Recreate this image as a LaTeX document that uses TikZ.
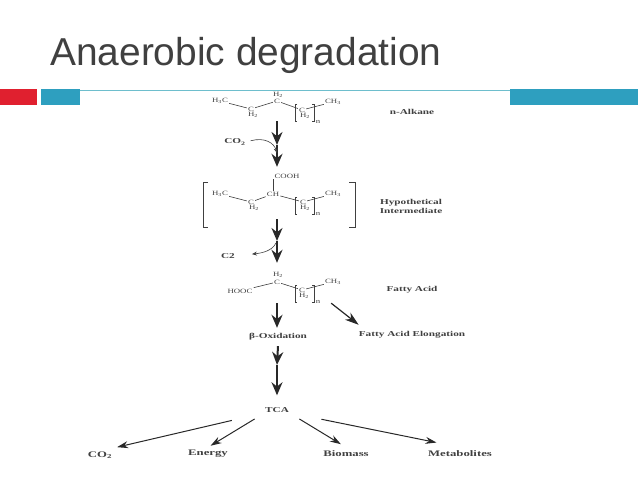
\documentclass[tikz,border=0pt]{standalone}
\usepackage{fontspec}
\setmainfont{Liberation Sans}
\newfontfamily\chemfont[FakeStretch=1.35]{Liberation Serif}
\newfontfamily\lblfont[FakeStretch=1.5]{Liberation Serif}
\usetikzlibrary{arrows.meta,fit}
\definecolor{inkt}{RGB}{64,64,64}
\definecolor{inkc}{RGB}{40,40,40}
\definecolor{redbar}{RGB}{224,32,47}
\definecolor{bluebar}{RGB}{46,159,191}
\definecolor{blueline}{RGB}{110,190,205}

\begin{document}
\begin{tikzpicture}[
  x=1pt, y=-1pt,
  atom/.style={font=\chemfont\fontsize{6.5}{7}\selectfont, text=inkt, inner sep=1pt},
  lbl/.style={font=\lblfont\bfseries\fontsize{7.5}{9}\selectfont, text=inkt, align=center, inner sep=0pt},
  prod/.style={font=\lblfont\bfseries\fontsize{8.5}{9}\selectfont, text=inkt, inner sep=0pt, minimum height=13pt},
  bond/.style={line width=0.6pt, inkt},
  brk/.style={line width=0.6pt, inkt},
  arr/.style={-{Stealth[length=13pt, width=11pt]}, line width=2pt, inkc},
  tarr/.style={-{Stealth[length=11pt, width=7pt]}, line width=1pt, inkc},
  earr/.style={-{Stealth[length=14pt, width=9pt]}, line width=1.2pt, inkc},
  carr/.style={-{Stealth[length=5pt, width=4pt]}, line width=0.6pt, inkt},
  span/.style={inner sep=0pt},
]
\useasboundingbox (0,0) rectangle (638,479);

% ============ title and header bars ============
\node[anchor=base west, inner sep=0pt, text=inkt, font=\fontsize{38.9}{40}\selectfont] (title) at (50,65) {Anaerobic degradation};
\fill[redbar] (0,89) rectangle (37,105);
\fill[bluebar] (41,89) rectangle (80,105);
\fill[bluebar] (510,89) rectangle (638,105);
\draw[blueline, line width=1pt] (80,90) -- (510,90);

% ============ n-alkane ============
\node[atom] (aleft) at (220,101) {H\textsubscript{3}C};
\node[atom] (ac1) at (251,109) {C};
\node[atom] (ah1) at (253,115) {H\textsubscript{2}};
\node[atom] (ac2) at (277,101) {C};
\node[atom] (ah2) at (278,95) {H\textsubscript{2}};
\node[atom] (ac3) at (302,110) {C};
\node[atom] (ah3) at (305,116) {H\textsubscript{2}};
\node[atom] (an) at (318,122) {n};
\node[atom] (aright) at (333,102) {CH\textsubscript{3}};
\draw[bond] (aleft)--(ac1); \draw[bond] (ac1)--(ac2); \draw[bond] (ac2)--(ac3); \draw[bond] (ac3)--(aright);
\node[lbl] (alkane) at (412,112) {n-Alkane};
\node[span, fit={(209,91)(345,121)}] (alkbox) {};

% ============ intermediate ============
\node[atom] (icooh) at (287,176) {COOH};
\node[atom] (ileft) at (220,194) {H\textsubscript{3}C};
\node[atom] (ic1) at (251,202) {C};
\node[atom] (ih1) at (254,208) {H\textsubscript{2}};
\node[atom] (ich) at (273,194) {CH};
\node[atom] (ic3) at (303,202) {C};
\node[atom] (ih3) at (305,208) {H\textsubscript{2}};
\node[atom] (in) at (318,214) {n};
\node[atom] (iright) at (333,194) {CH\textsubscript{3}};
\draw[bond] (ileft)--(ic1); \draw[bond] (ic1)--(ich); \draw[bond] (ich)--(ic3); \draw[bond] (ic3)--(iright);
\draw[bond] (icooh.south -| ich)--(ich);
\draw[brk] (208,182)--(203,182)--(203,227)--(208,227);
\draw[brk] (349,182)--(355,182)--(355,227)--(349,227);
\node[lbl] (hypo) at (411,206) {Hypothetical\\Intermediate};
\node[span, fit={(203,167)(351,219)}] (intbox) {};

% ============ fatty acid ============
\node[atom] (fleft) at (240,291) {HOOC};
\node[atom] (fc2) at (277,282) {C};
\node[atom] (fh2) at (278,275) {H\textsubscript{2}};
\node[atom] (fc3) at (302,290) {C};
\node[atom] (fh3) at (304,296) {H\textsubscript{2}};
\node[atom] (fn) at (318,302) {n};
\node[atom] (fright) at (333,282) {CH\textsubscript{3}};
\draw[bond] (fleft)--(fc2); \draw[bond] (fc2)--(fc3); \draw[bond] (fc3)--(fright);
\node[lbl] (fatty) at (412,290) {Fatty Acid};
\node[span, fit={(223,263)(331,303)}] (facbox) {};

% repeat unit brackets
\foreach \yb in {104,197,285}{
  \draw[brk] (297,\yb)--(295,\yb)--(295,\yb+17)--(297,\yb+17);
  \draw[brk] (312,\yb)--(314,\yb)--(314,\yb+17)--(312,\yb+17);
}

% ============ chain labels ============
\node[lbl] (co2in) at (235,142) {CO\textsubscript{2}};
\node[lbl] (c2out) at (228,256) {C2};
\node[lbl, minimum height=20pt] (elong) at (412,335) {Fatty Acid Elongation};
\node[lbl, minimum height=18pt] (beta) at (278,337) {β-Oxidation};
\node[lbl] (tca) at (277,410) {TCA};
\node[prod] (pco2) at (100,455) {CO\textsubscript{2}};
\node[prod] (penergy) at (208,454) {Energy};
\node[prod] (pbio) at (346,454) {Biomass};
\node[prod] (pmeta) at (460,454) {Metabolites};

\coordinate (stepa) at (277,145);
\coordinate (stepb) at (277,241);
\coordinate (stepc) at (277,365);
\coordinate (joina) at (277,153);
\coordinate (joinb) at (276,243);

% ============ arrows ============
\draw[arr] (alkbox.south)--(alkbox.south |- stepa);
\draw[arr] (stepa)--(stepa |- intbox.north);
\draw[arr] (intbox.south)--(intbox.south |- stepb);
\draw[arr] (stepb)--(stepb |- facbox.north);
\draw[arr] (facbox.south)--(facbox.south |- beta.north);
\draw[arr] (beta.south)--(stepc);
\draw[arr, shorten >=12pt] (stepc)--(tca);
\draw[earr] (facbox.south east)--(elong.north west);
\draw[carr, shorten <=5pt] (co2in.east) .. controls (265,137) and (274,143) .. (joina);
\draw[carr, shorten >=17pt] (joinb) .. controls (272,251) and (262,253) .. (c2out.east);
\draw[tarr, shorten <=34pt, shorten >=5pt] (tca.south west)--(pco2.north east);
\draw[tarr, shorten <=12pt, shorten >=3pt] (tca.south west)--(penergy.north);
\draw[tarr, shorten <=12pt, shorten >=6pt] (tca.south east)--(pbio.north);
\draw[tarr, shorten <=33pt, shorten >=24pt] (tca.south east)--(pmeta.north);
\end{tikzpicture}
\end{document}
